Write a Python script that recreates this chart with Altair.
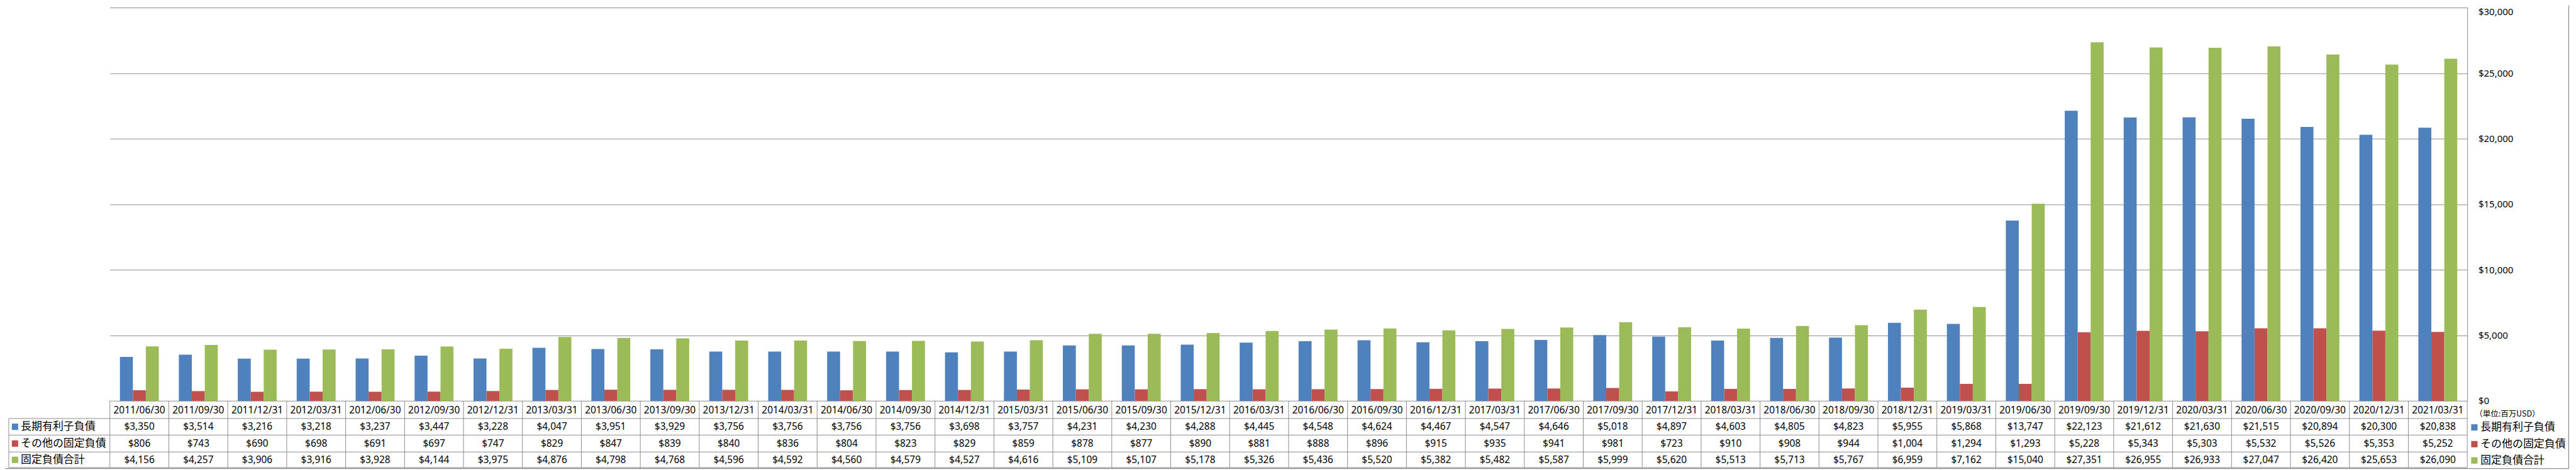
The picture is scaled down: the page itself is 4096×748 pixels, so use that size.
import altair as alt
import pandas as pd

dates = ["2011/06/30", "2011/09/30", "2011/12/31", "2012/03/31", "2012/06/30", "2012/09/30",
         "2012/12/31", "2013/03/31", "2013/06/30", "2013/09/30", "2013/12/31", "2014/03/31",
         "2014/06/30", "2014/09/30", "2014/12/31", "2015/03/31", "2015/06/30", "2015/09/30",
         "2015/12/31", "2016/03/31", "2016/06/30", "2016/09/30", "2016/12/31", "2017/03/31",
         "2017/06/30", "2017/09/30", "2017/12/31", "2018/03/31", "2018/06/30", "2018/09/30",
         "2018/12/31", "2019/03/31", "2019/06/30", "2019/09/30", "2019/12/31", "2020/03/31",
         "2020/06/30", "2020/09/30", "2020/12/31", "2021/03/31"]
long_debt = [3350, 3514, 3216, 3218, 3237, 3447, 3228, 4047, 3951, 3929,
             3756, 3756, 3756, 3756, 3698, 3757, 4231, 4230, 4288, 4445,
             4548, 4624, 4467, 4547, 4646, 5018, 4897, 4603, 4805, 4823,
             5955, 5868, 13747, 22123, 21612, 21630, 21515, 20894, 20300, 20838]
other_debt = [806, 743, 690, 698, 691, 697, 747, 829, 847, 839,
              840, 836, 804, 823, 829, 859, 878, 877, 890, 881,
              888, 896, 915, 935, 941, 981, 723, 910, 908, 944,
              1004, 1294, 1293, 5228, 5343, 5303, 5532, 5526, 5353, 5252]
total_debt = [4156, 4257, 3906, 3916, 3928, 4144, 3975, 4876, 4798, 4768,
              4596, 4592, 4560, 4579, 4527, 4616, 5109, 5107, 5178, 5326,
              5436, 5520, 5382, 5482, 5587, 5999, 5620, 5513, 5713, 5767,
              6959, 7162, 15040, 27351, 26955, 26933, 27047, 26420, 25653, 26090]
series_names = ["長期有利子負債", "その他の固定負債", "固定負債合計"]
series_colors = ["#4F81BD", "#C0504D", "#9BBB59"]
y_ticks = [0, 5000, 10000, 15000, 20000, 25000, 30000]
unit_label = "（単位:百万USD）"

# ---- layout (pixels) ----
W = 3755.7
H = 627.1
LINE = "#8C8C8C"
ROW_LINES = [H, 655.3, 681.7, 708.7, 733.6]
ROW_CENTERS = [642.5, 668.5, 695.2, 721.2]
HEAD_LEFT = -161.1
NUM_FONT = "Noto Sans"
JP_FONT = "Noto Sans CJK JP"
JP_SIZE = 17

rows = []
for name, vals in zip(series_names, [long_debt, other_debt, total_debt]):
    for d, v in zip(dates, vals):
        rows.append({"date": d, "series": name, "value": v})
df = pd.DataFrame(rows)
df_dates = pd.DataFrame({"date": dates})
one = pd.DataFrame({"k": [0]})

x_enc = alt.X("date:N", sort=dates, axis=None,
              scale=alt.Scale(paddingInner=0, paddingOuter=0))

bars = alt.Chart(df).mark_bar().encode(
    x=x_enc,
    xOffset=alt.XOffset("series:N", sort=series_names,
                        scale=alt.Scale(paddingInner=0, paddingOuter=0.773)),
    y=alt.Y("value:Q", scale=alt.Scale(domain=[0, 30000], nice=False),
            axis=alt.Axis(orient="right", values=y_ticks, format="$,.0f", title=None,
                          labelFont=NUM_FONT, labelFontSize=15, labelColor="#000000",
                          labelPadding=17.4, labelAlign="left", ticks=False,
                          labelOffset={"expr": "datum.value == 30000 ? 6.5 : 0"},
                          domain=True, domainColor=LINE, domainWidth=1,
                          grid=True, gridColor=LINE, gridWidth=1)),
    color=alt.Color("series:N", scale=alt.Scale(domain=series_names, range=series_colors),
                    legend=None),
)

layers = [bars]

# date row
layers.append(alt.Chart(df_dates).mark_text(
    font=NUM_FONT, fontSize=15.5, color="#000000", baseline="middle", align="center"
).encode(x=x_enc, y=alt.value(ROW_CENTERS[0]), text="date:N"))

# value rows
for i, name in enumerate(series_names):
    layers.append(alt.Chart(df).transform_filter(
        alt.datum.series == name
    ).mark_text(
        font=NUM_FONT, fontSize=15.5, color="#000000", baseline="middle", align="center"
    ).encode(x=x_enc, y=alt.value(ROW_CENTERS[i + 1]),
             text=alt.Text("value:Q", format="$,.0f")))
    # header column label + swatch
    layers.append(alt.Chart(one).mark_square(size=102, opacity=1, color=series_colors[i]).encode(
        x=alt.value(-151.2), y=alt.value(ROW_CENTERS[i + 1])))
    layers.append(alt.Chart(one).mark_text(
        font=JP_FONT, fontSize=JP_SIZE, color="#000000", baseline="middle", align="left",
        text=name).encode(x=alt.value(-142.0), y=alt.value(ROW_CENTERS[i + 1])))
    # right legend
    layers.append(alt.Chart(one).mark_square(size=102, opacity=1, color=series_colors[i]).encode(
        x=alt.value(3767.0), y=alt.value(ROW_CENTERS[i + 1] + 1)))
    layers.append(alt.Chart(one).mark_text(
        font=JP_FONT, fontSize=JP_SIZE, color="#000000", baseline="middle", align="left",
        text=name).encode(x=alt.value(3776.7), y=alt.value(ROW_CENTERS[i + 1] + 1)))

# unit label
layers.append(alt.Chart(one).mark_text(
    font=JP_FONT, fontSize=12.5, color="#000000", baseline="middle", align="left",
    text=unit_label).encode(x=alt.value(3767.9), y=alt.value(648.0)))

# table horizontal lines
for yv in ROW_LINES[1:]:
    layers.append(alt.Chart(one).mark_rule(color=LINE, strokeWidth=1).encode(
        x=alt.value(HEAD_LEFT), x2=alt.value(W), y=alt.value(yv)))

# table vertical lines
layers.append(alt.Chart(df_dates).mark_rule(color=LINE, strokeWidth=1).encode(
    x=alt.X("date:N", sort=dates, bandPosition=0, axis=None,
            scale=alt.Scale(paddingInner=0, paddingOuter=0)),
    y=alt.value(H), y2=alt.value(ROW_LINES[-1])))
layers.append(alt.Chart(one).mark_rule(color=LINE, strokeWidth=1).encode(
    x=alt.value(W), y=alt.value(H), y2=alt.value(ROW_LINES[-1])))
layers.append(alt.Chart(one).mark_rule(color=LINE, strokeWidth=1).encode(
    x=alt.value(HEAD_LEFT), y=alt.value(ROW_LINES[1]), y2=alt.value(ROW_LINES[-1])))

# outer frame (right and bottom edges)
layers.append(alt.Chart(one).mark_rule(color=LINE, strokeWidth=1.2).encode(
    x=alt.value(3917.3), y=alt.value(-3.3), y2=alt.value(735.1)))
layers.append(alt.Chart(one).mark_rule(color=LINE, strokeWidth=1.2).encode(
    x=alt.value(-167.1), x2=alt.value(3917.3), y=alt.value(735.1)))

chart = alt.layer(*layers).properties(
    width=W, height=H,
    autosize=alt.AutoSizeParams(type="none"),
    padding={"left": 167.07, "top": 3.32, "right": 165.2, "bottom": 109.6},
    background="white",
).configure_view(stroke=None)

chart.save("out.html", embed_options={"renderer": "svg", "actions": False})
